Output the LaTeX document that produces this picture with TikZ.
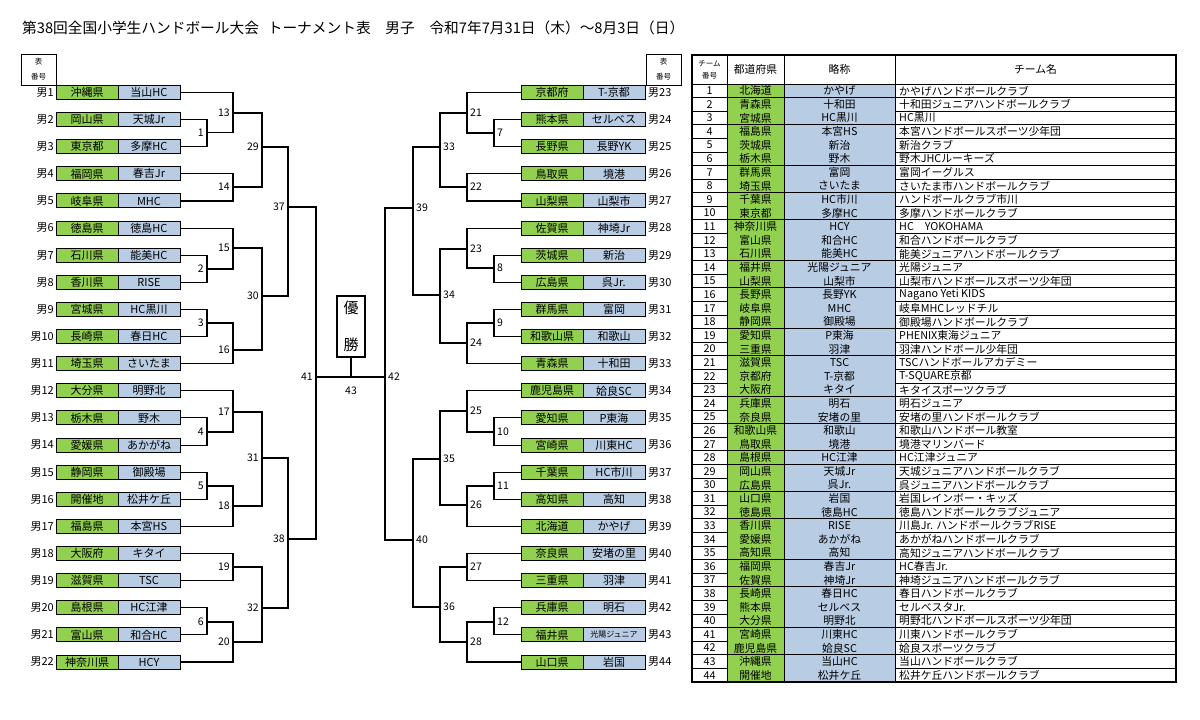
\documentclass[tikz,border=0pt]{standalone}
\usepackage{fontspec}
\setmainfont{Noto Sans CJK JP}
\newcommand\fsz[1]{\fontsize{#1}{#1}\selectfont}
\definecolor{pg}{RGB}{146,208,80}
\definecolor{tb}{RGB}{184,204,228}
\begin{document}
\begin{tikzpicture}[x=1pt,y=-1pt,
  gbox/.style={draw,line width=1pt,fill=pg,minimum width=62pt,minimum height=14pt,inner sep=0pt,font=\fsz{11}},
  bbox/.style={draw,line width=1pt,fill=tb,minimum width=62pt,minimum height=14pt,inner sep=0pt,font=\fsz{11}},
  tnum/.style={font=\fsz{11},inner sep=0pt},
  lnk/.style={line width=1.1pt},
  mlab/.style={font=\fsz{10.5},inner sep=0pt},
  hdr/.style={draw,line width=1pt,minimum width=35pt,minimum height=31pt,inner sep=0pt,align=center,font=\fontsize{7.5}{15}\selectfont},
  cell/.style={inner sep=0pt,font=\fsz{10.8}}
]
\useasboundingbox (0,0) rectangle (1200,720);
\fill[white] (0,0) rectangle (1200,720);

% title
\node[anchor=west,inner sep=0pt,font=\fsz{14.7}] (title) at (22,28) {第38回全国小学生ハンドボール大会\hspace{0.6em}トーナメント表\hspace{1em}男子\hspace{1em}令和7年7月31日（木）～8月3日（日）};

% header boxes
\node[hdr] (hl) at (38.5,69.5) {表\\番号};
\node[hdr] (hr) at (663.5,69.5) {表\\番号};

% left teams
\foreach \i/\p/\t in {1/沖縄県/当山HC,2/岡山県/天城Jr,3/東京都/多摩HC,4/福岡県/春吉Jr,5/岐阜県/MHC,6/徳島県/徳島HC,7/石川県/能美HC,8/香川県/RISE,9/宮城県/HC黒川,10/長崎県/春日HC,11/埼玉県/さいたま,12/大分県/明野北,13/栃木県/野木,14/愛媛県/あかがね,15/静岡県/御殿場,16/開催地/松井ケ丘,17/福島県/本宮HS,18/大阪府/キタイ,19/滋賀県/TSC,20/島根県/HC江津,21/富山県/和合HC,22/神奈川県/HCY}{
  \pgfmathsetmacro\yy{92.5+(\i-1)*27.12}
  \node[gbox] (p\i) at (87,\yy) {\p};
  \node[bbox] (t\i) at (149,\yy) {\t};
  \node[tnum,anchor=east] (lab\i) at (54,\yy) {男\i};
}
% right teams
\foreach \i/\p/\t in {23/京都府/T-京都,24/熊本県/セルベス,25/長野県/長野YK,26/鳥取県/境港,27/山梨県/山梨市,28/佐賀県/神埼Jr,29/茨城県/新治,30/広島県/呉Jr.,31/群馬県/富岡,32/和歌山県/和歌山,33/青森県/十和田,34/鹿児島県/姶良SC,35/愛知県/P東海,36/宮崎県/川東HC,37/千葉県/HC市川,38/高知県/高知,39/北海道/かやげ,40/奈良県/安堵の里,41/三重県/羽津,42/兵庫県/明石,43/福井県/{\fsz{8}光陽ジュニア},44/山口県/岩国}{
  \pgfmathsetmacro\yy{92.5+(\i-23)*27.12}
  \node[gbox] (p\i) at (552,\yy) {\p};
  \node[bbox] (t\i) at (614,\yy) {\t};
  \node[tnum,anchor=west] (lab\i) at (648,\yy) {男\i};
}

% left match points
\foreach \n/\x/\y in {1/207/132.5,13/233/113,14/233/187,29/262/147,2/207/269,15/233/248,3/207/323,16/233/350,30/262/296,37/288/207,4/207/432,17/233/412,5/207/486,18/233/506,31/262/458,19/233/567,6/207/622,20/233/642,32/262/608,38/288/539,41/316/377}{
  \coordinate (L\n) at (\x,\y);
  \node[mlab,anchor=east] (lL\n) at (\x-3,\y) {\n};
}
% right match points
\foreach \n/\x/\y in {7/494/133,21/467/113,22/467/187,33/440/147,8/494/268,23/467/249,9/494/323,24/467/343,34/440/295,39/413/208,10/494/432,25/467/411,11/494/486,26/467/505,35/440/459,27/467/567,12/494/622,28/467/642,36/440/607,40/413/540,42/385/377}{
  \coordinate (R\n) at (\x,\y);
  \node[mlab,anchor=west] (lR\n) at (\x+3,\y) {\n};
}

% left bracket
\draw[lnk] (t2.east) -| (L1) |- (t3.east);
\draw[lnk] (t1.east) -| (L13) |- (L1);
\draw[lnk] (t4.east) -| (L14) |- (t5.east);
\draw[lnk] (L13) -| (L29) |- (L14);
\draw[lnk] (t7.east) -| (L2) |- (t8.east);
\draw[lnk] (t6.east) -| (L15) |- (L2);
\draw[lnk] (t9.east) -| (L3) |- (t10.east);
\draw[lnk] (L3) -| (L16) |- (t11.east);
\draw[lnk] (L15) -| (L30) |- (L16);
\draw[lnk] (L29) -| (L37) |- (L30);
\draw[lnk] (t13.east) -| (L4) |- (t14.east);
\draw[lnk] (t12.east) -| (L17) |- (L4);
\draw[lnk] (t15.east) -| (L5) |- (t16.east);
\draw[lnk] (L5) -| (L18) |- (t17.east);
\draw[lnk] (L17) -| (L31) |- (L18);
\draw[lnk] (t18.east) -| (L19) |- (t19.east);
\draw[lnk] (t20.east) -| (L6) |- (t21.east);
\draw[lnk] (L6) -| (L20) |- (t22.east);
\draw[lnk] (L19) -| (L32) |- (L20);
\draw[lnk] (L31) -| (L38) |- (L32);
\draw[lnk] (L37) -| (L41) |- (L38);

% right bracket
\draw[lnk] (p24.west) -| (R7) |- (p25.west);
\draw[lnk] (p23.west) -| (R21) |- (R7);
\draw[lnk] (p26.west) -| (R22) |- (p27.west);
\draw[lnk] (R21) -| (R33) |- (R22);
\draw[lnk] (p29.west) -| (R8) |- (p30.west);
\draw[lnk] (p28.west) -| (R23) |- (R8);
\draw[lnk] (p31.west) -| (R9) |- (p32.west);
\draw[lnk] (R9) -| (R24) |- (p33.west);
\draw[lnk] (R23) -| (R34) |- (R24);
\draw[lnk] (R33) -| (R39) |- (R34);
\draw[lnk] (p35.west) -| (R10) |- (p36.west);
\draw[lnk] (p34.west) -| (R25) |- (R10);
\draw[lnk] (p37.west) -| (R11) |- (p38.west);
\draw[lnk] (R11) -| (R26) |- (p39.west);
\draw[lnk] (R25) -| (R35) |- (R26);
\draw[lnk] (p40.west) -| (R27) |- (p41.west);
\draw[lnk] (p42.west) -| (R12) |- (p43.west);
\draw[lnk] (R12) -| (R28) |- (p44.west);
\draw[lnk] (R27) -| (R36) |- (R28);
\draw[lnk] (R35) -| (R40) |- (R36);
\draw[lnk] (R39) -| (R42) |- (R40);

% final
\draw[lnk] (L41) -- (R42);
\node[draw,line width=1.2pt,minimum width=28pt,minimum height=61pt,inner sep=0pt,align=center,font=\fontsize{15}{37}\selectfont] (win) at (351,326.5) {優\\勝};
\coordinate (fin) at (351,377);
\draw[lnk] (win.south) -- (fin);
\node[mlab] (l43) at (351,391) {43};

% table
\foreach \i/\p/\a/\n in {1/北海道/かやげ/かやげハンドボールクラブ,2/青森県/十和田/十和田ジュニアハンドボールクラブ,3/宮城県/HC黒川/HC黒川,4/福島県/本宮HS/本宮ハンドボールスポーツ少年団,5/茨城県/新治/新治クラブ,6/栃木県/野木/野木JHCルーキーズ,7/群馬県/富岡/富岡イーグルス,8/埼玉県/さいたま/さいたま市ハンドボールクラブ,9/千葉県/HC市川/ハンドボールクラブ市川,10/東京都/多摩HC/多摩ハンドボールクラブ,11/神奈川県/HCY/HC　YOKOHAMA,12/富山県/和合HC/和合ハンドボールクラブ,13/石川県/能美HC/能美ジュニアハンドボールクラブ,14/福井県/光陽ジュニア/光陽ジュニア,15/山梨県/山梨市/山梨市ハンドボールスポーツ少年団,16/長野県/長野YK/Nagano Yeti KIDS,17/岐阜県/MHC/岐阜MHCレッドチル,18/静岡県/御殿場/御殿場ハンドボールクラブ,19/愛知県/P東海/PHENIX東海ジュニア,20/三重県/羽津/羽津ハンドボール少年団,21/滋賀県/TSC/TSCハンドボールアカデミー,22/京都府/T-京都/T-SQUARE京都,23/大阪府/キタイ/キタイスポーツクラブ,24/兵庫県/明石/明石ジュニア,25/奈良県/安堵の里/安堵の里ハンドボールクラブ,26/和歌山県/和歌山/和歌山ハンドボール教室,27/鳥取県/境港/境港マリンバード,28/島根県/HC江津/HC江津ジュニア,29/岡山県/天城Jr/天城ジュニアハンドボールクラブ,30/広島県/呉Jr./呉ジュニアハンドボールクラブ,31/山口県/岩国/岩国レインボー・キッズ,32/徳島県/徳島HC/徳島ハンドボールクラブジュニア,33/香川県/RISE/川島Jr. ハンドボールクラブRISE,34/愛媛県/あかがね/あかがねハンドボールクラブ,35/高知県/高知/高知ジュニアハンドボールクラブ,36/福岡県/春吉Jr/HC春吉Jr.,37/佐賀県/神埼Jr/神埼ジュニアハンドボールクラブ,38/長崎県/春日HC/春日ハンドボールクラブ,39/熊本県/セルベス/セルベスタJr.,40/大分県/明野北/明野北ハンドボールスポーツ少年団,41/宮崎県/川東HC/川東ハンドボールクラブ,42/鹿児島県/姶良SC/姶良スポーツクラブ,43/沖縄県/当山HC/当山ハンドボールクラブ,44/開催地/松井ケ丘/松井ケ丘ハンドボールクラブ}{
  \pgfmathsetmacro\yt{84+(\i-1)*13.59}
  \pgfmathsetmacro\yb{84+\i*13.59}
  \pgfmathsetmacro\ym{84+(\i-0.5)*13.59}
  \fill[pg] (727,\yt) rectangle (784,\yb);
  \fill[tb] (784,\yt) rectangle (895,\yb);
  \node[cell] (rn\i) at (709.5,\ym) {\i};
  \node[cell] (rp\i) at (755.5,\ym) {\p};
  \node[cell] (ra\i) at (839.5,\ym) {\a};
  \node[cell,anchor=west] (rt\i) at (899,\ym) {\n};
  \draw[line width=0.9pt] (692,\yb) -- (1176,\yb);
}
\node[cell,align=center,font=\fontsize{7.5}{12}\selectfont] (h1) at (709.5,69.5) {チーム\\番号};
\node[cell] (h2) at (755.5,69.5) {都道府県};
\node[cell] (h3) at (839.5,69.5) {略称};
\node[cell] (h4) at (1035.5,69.5) {チーム名};
\draw[line width=0.9pt] (692,84) -- (1176,84);
\foreach \x in {727,784,895}{\draw[line width=0.9pt] (\x,55) -- (\x,681.96);}
\draw[line width=1.4pt] (692,55) rectangle (1176,681.96);
\end{tikzpicture}
\end{document}
